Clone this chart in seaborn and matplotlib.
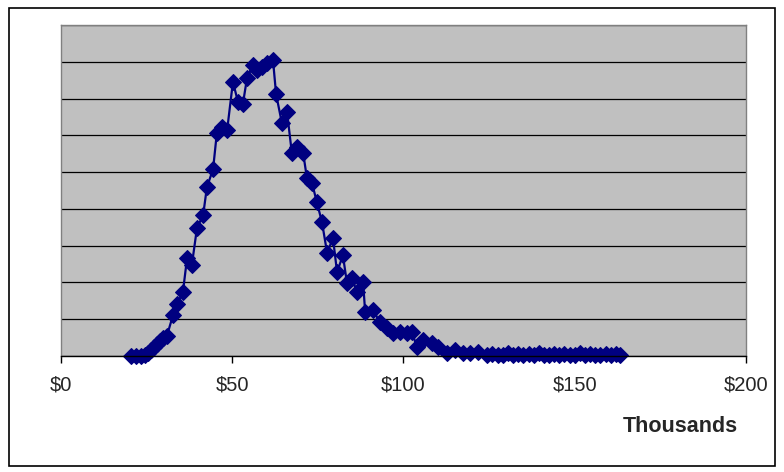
import matplotlib
matplotlib.use("Agg")
import matplotlib.pyplot as plt
from matplotlib.patches import Rectangle
from matplotlib.ticker import FuncFormatter
import seaborn as sns
import pandas as pd

# Income (thousands of dollars) and relative frequency of households
income_k = [
    20.4, 21.9, 23.4, 24.5, 25.4, 26.3, 27.2, 28.0, 28.9, 29.8, 30.9,
    32.7, 33.9, 35.6, 36.8, 38.2, 39.7, 41.5, 42.6, 44.4, 45.5, 47.0,
    48.5, 50.2, 51.7, 53.1, 54.3, 56.1, 57.2, 58.7, 60.1, 61.9, 62.8,
    64.5, 66.0, 67.4, 68.9, 70.7, 71.8, 73.3, 74.7, 76.2, 77.7, 79.4,
    80.6, 82.3, 83.5, 85.0, 86.4, 88.2, 88.8, 91.1, 93.1, 95.2, 96.9,
    99.0, 101.0, 102.5, 103.9, 105.7, 108.3, 110.1, 112.7, 115.0, 117.4,
    119.4, 121.8, 124.4, 125.9, 127.5, 129.0, 130.5, 132.0, 133.5, 135.0,
    136.5, 138.0, 139.5, 141.0, 142.5, 144.0, 145.5, 147.0, 148.5, 150.0,
    151.5, 153.0, 154.5, 156.0, 157.5, 159.0, 160.5, 162.0, 163.2,
]
share = [
    0.00, 0.00, 0.00, 0.03, 0.08, 0.16, 0.24, 0.33, 0.41, 0.49, 0.54,
    1.11, 1.41, 1.74, 2.66, 2.47, 3.48, 3.83, 4.59, 5.08, 6.06, 6.22,
    6.14, 7.45, 6.90, 6.85, 7.55, 7.91, 7.77, 7.85, 7.96, 8.04, 7.12,
    6.33, 6.63, 5.52, 5.68, 5.52, 4.84, 4.70, 4.18, 3.64, 2.80, 3.21,
    2.28, 2.74, 1.98, 2.12, 1.74, 2.01, 1.20, 1.25, 0.92, 0.76, 0.63,
    0.65, 0.63, 0.65, 0.24, 0.43, 0.35, 0.24, 0.08, 0.16, 0.08,
    0.08, 0.11, 0.03, 0.05, 0.02, 0.04, 0.08, 0.03, 0.05, 0.02,
    0.06, 0.03, 0.07, 0.02, 0.04, 0.05, 0.03, 0.06, 0.02, 0.04,
    0.08, 0.03, 0.05, 0.02, 0.04, 0.06, 0.03, 0.05, 0.02,
]
x_ticks = [0, 50, 100, 150, 200]

df = pd.DataFrame({"income": income_k, "share": share})

sns.set_style("white")
plt.rcParams["font.family"] = ["Liberation Sans", "DejaVu Sans"]

fig = plt.figure(figsize=(7.84, 4.72), dpi=100)
ax = fig.add_axes([61 / 784, 1 - 356 / 472, (746 - 61) / 784, (356 - 25) / 472])
ax.set_facecolor("#C0C0C0")

sns.lineplot(
    data=df, x="income", y="share", ax=ax, sort=False, estimator=None,
    color="#000080", linewidth=1.6, marker="D", markersize=8.3,
    markeredgecolor="#000080", markerfacecolor="#000080",
)
for line in ax.lines:
    line.set_clip_on(False)

ax.set_xlim(0, 200)
ax.set_ylim(0, 9)
ax.set_xticks(x_ticks)
ax.xaxis.set_major_formatter(FuncFormatter(lambda v, _: f"${int(v)}"))
ax.set_yticks(range(0, 10))
ax.set_yticklabels([])
ax.tick_params(axis="y", length=0)
ax.tick_params(axis="x", direction="out", length=5, width=1, color="#000000",
               labelsize=14.5, pad=9, bottom=True)
ax.grid(axis="y", color="#000000", linewidth=0.9)
ax.grid(axis="x", visible=False)
ax.set_axisbelow(True)
ax.set_xlabel("")
ax.set_ylabel("")

for side in ("top", "left", "right"):
    ax.spines[side].set_color("#808080")
    ax.spines[side].set_linewidth(1.0)
ax.spines["bottom"].set_color("#000000")
ax.spines["bottom"].set_linewidth(1.0)

fig.text(738 / 784, 1 - 427 / 472, "Thousands", ha="right", va="center",
         fontsize=15.5, fontweight="bold")

fig.patches.append(Rectangle((9 / 784, 1 - 466 / 472), (775 - 9) / 784, (466 - 8) / 472,
                             transform=fig.transFigure, fill=False,
                             edgecolor="#000000", linewidth=1.2))

fig.savefig("out.png", dpi=100, facecolor="white")
